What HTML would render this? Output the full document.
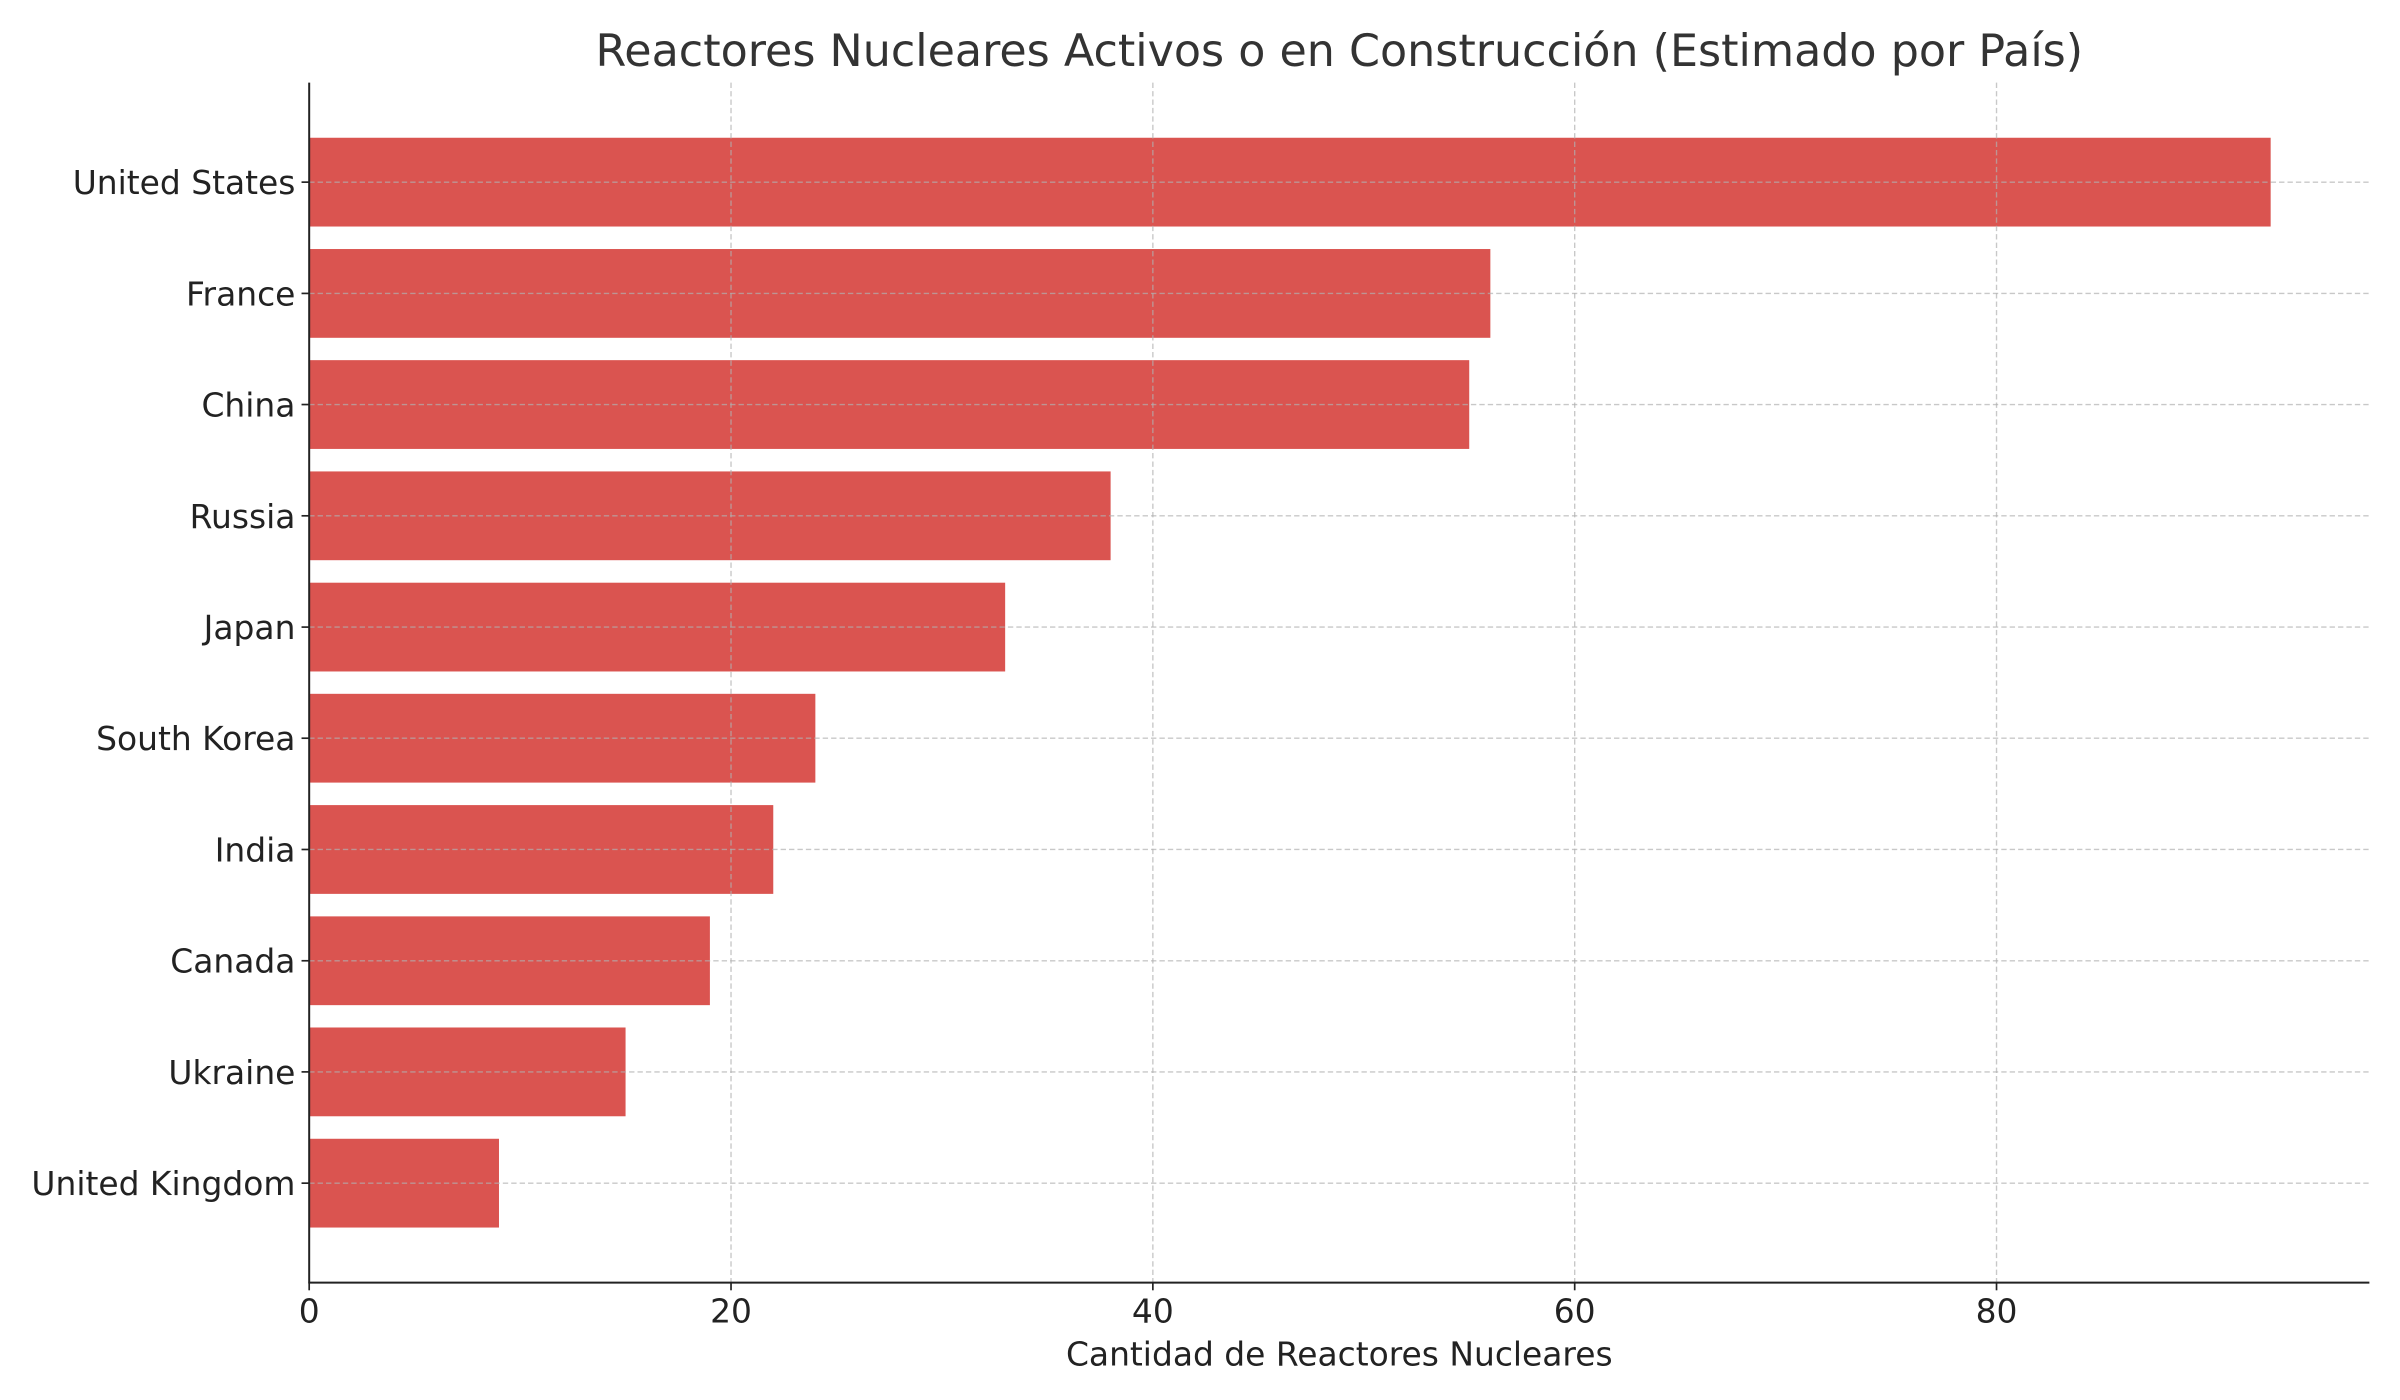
<!DOCTYPE html>
<html><head><meta charset="utf-8"><style>html,body{margin:0;padding:0;background:#fff}svg{display:block}</style></head>
<body>
<svg width="2400" height="1400" viewBox="0 0 1568 914.67" xmlns="http://www.w3.org/2000/svg" font-family="DejaVu Sans, Liberation Sans, sans-serif">
<rect width="1568" height="914.67" fill="#fff"/>
<g fill="#DA5450">
<rect x="202" y="90" width="1281.5" height="58"/>
<rect x="202" y="162.7" width="771.7" height="58"/>
<rect x="202" y="235.3" width="757.9" height="58"/>
<rect x="202" y="308" width="523.6" height="58"/>
<rect x="202" y="380.7" width="454.7" height="58"/>
<rect x="202" y="453.3" width="330.7" height="58"/>
<rect x="202" y="526" width="303.2" height="58"/>
<rect x="202" y="598.7" width="261.8" height="58"/>
<rect x="202" y="671.3" width="206.7" height="58"/>
<rect x="202" y="744" width="124" height="58"/>
</g>
<g stroke="#b0b0b0" stroke-opacity="0.7" stroke-width="0.9" stroke-dasharray="3.5,2">
<line x1="477.6" y1="54" x2="477.6" y2="838"/>
<line x1="753.2" y1="54" x2="753.2" y2="838"/>
<line x1="1028.8" y1="54" x2="1028.8" y2="838"/>
<line x1="1304.4" y1="54" x2="1304.4" y2="838"/>
<line x1="202" y1="119" x2="1548" y2="119"/>
<line x1="202" y1="191.7" x2="1548" y2="191.7"/>
<line x1="202" y1="264.3" x2="1548" y2="264.3"/>
<line x1="202" y1="337" x2="1548" y2="337"/>
<line x1="202" y1="409.7" x2="1548" y2="409.7"/>
<line x1="202" y1="482.3" x2="1548" y2="482.3"/>
<line x1="202" y1="555" x2="1548" y2="555"/>
<line x1="202" y1="627.7" x2="1548" y2="627.7"/>
<line x1="202" y1="700.3" x2="1548" y2="700.3"/>
<line x1="202" y1="773" x2="1548" y2="773"/>
</g>
<g stroke="#222" stroke-width="1.3">
<line x1="202" y1="54" x2="202" y2="838.5"/>
<line x1="201.5" y1="838" x2="1548" y2="838"/>
<g stroke-width="1.1">
<line x1="202" y1="838" x2="202" y2="843"/><line x1="477.6" y1="838" x2="477.6" y2="843"/><line x1="753.2" y1="838" x2="753.2" y2="843"/><line x1="1028.8" y1="838" x2="1028.8" y2="843"/><line x1="1304.4" y1="838" x2="1304.4" y2="843"/>
<line x1="197" y1="119" x2="202" y2="119"/><line x1="197" y1="191.7" x2="202" y2="191.7"/><line x1="197" y1="264.3" x2="202" y2="264.3"/><line x1="197" y1="337" x2="202" y2="337"/><line x1="197" y1="409.7" x2="202" y2="409.7"/><line x1="197" y1="482.3" x2="202" y2="482.3"/><line x1="197" y1="555" x2="202" y2="555"/><line x1="197" y1="627.7" x2="202" y2="627.7"/><line x1="197" y1="700.3" x2="202" y2="700.3"/><line x1="197" y1="773" x2="202" y2="773"/>
</g></g>
<g fill="#222" font-size="21.5" text-anchor="end">
<text x="193" y="126.8">United States</text>
<text x="193" y="199.5">France</text>
<text x="193" y="272.1">China</text>
<text x="193" y="344.8">Russia</text>
<text x="193" y="417.5">Japan</text>
<text x="193" y="490.1">South Korea</text>
<text x="193" y="562.8">India</text>
<text x="193" y="635.5">Canada</text>
<text x="193" y="708.1">Ukraine</text>
<text x="193" y="780.8">United Kingdom</text>
</g>
<g fill="#222" font-size="21.5" text-anchor="middle">
<text x="202" y="864">0</text><text x="477.6" y="864">20</text><text x="753.2" y="864">40</text><text x="1028.8" y="864">60</text><text x="1304.4" y="864">80</text>
<text x="875" y="892">Cantidad de Reactores Nucleares</text>
</g>
<text x="875" y="43" fill="#333" font-size="29" text-anchor="middle">Reactores Nucleares Activos o en Construcción (Estimado por País)</text>
</svg>
</body></html>
